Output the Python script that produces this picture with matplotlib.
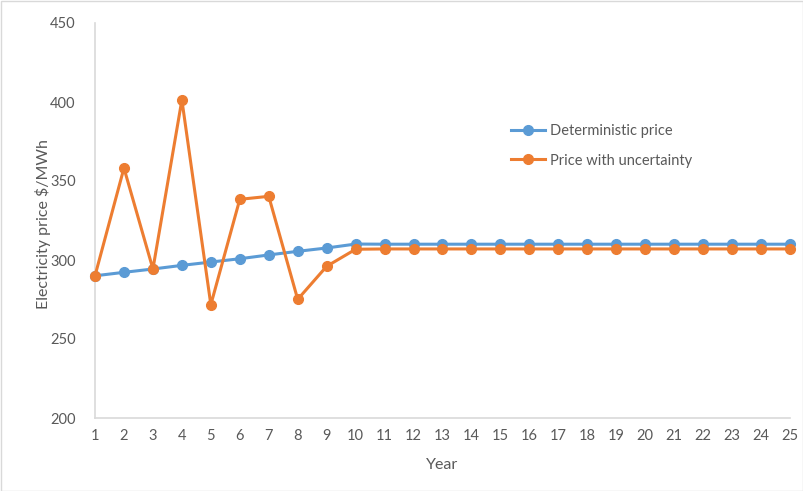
import matplotlib
matplotlib.use("Agg")
import matplotlib.pyplot as plt
from matplotlib.patches import Rectangle

years = list(range(1, 26))
deterministic = [290, 292.2, 294.3, 296.6, 298.7, 300.8, 303.2, 305.5, 307.6, 310.1,
                 310, 310, 310, 310, 310, 310, 310, 310, 310, 310, 310, 310, 310, 310, 310]
uncertain = [290, 358.2, 294.3, 401.3, 271.7, 338.4, 340.3, 275.1, 296, 306.8,
             307, 307, 307, 307, 307, 307, 307, 307, 307, 307, 307, 307, 307, 307, 307]
y_ticks = [200, 250, 300, 350, 400, 450]

plt.rcParams['font.family'] = ['Lato', 'DejaVu Sans']
text_color = '#595959'
axis_color = '#d9d9d9'

W, H = 804, 491
fig = plt.figure(figsize=(W / 100, H / 100), dpi=100)
ax = fig.add_axes([95 / W, 1 - 418 / H, (790 - 95) / W, (418 - 23) / H])

ax.plot(years, deterministic, color='#5b9bd5', lw=2.2, marker='o', ms=7,
        label='Deterministic price', zorder=3, clip_on=False)
ax.plot(years, uncertain, color='#ed7d31', lw=2.2, marker='o', ms=7,
        label='Price with uncertainty', zorder=4, clip_on=False)

ax.set_xlim(1, 25)
ax.set_ylim(200, 450)
ax.set_xticks(years)
ax.set_yticks(y_ticks)
ax.tick_params(length=0, labelsize=10.5, colors=text_color, pad=8)
ax.tick_params(axis='y', pad=14)
for side in ('top', 'right'):
    ax.spines[side].set_visible(False)
for side in ('left', 'bottom'):
    ax.spines[side].set_color(axis_color)
    ax.spines[side].set_linewidth(1.2)

ax.set_xlabel('Year', fontsize=11.5, color=text_color, labelpad=11)
ax.set_ylabel('Electricity price $/MWh', fontsize=11.5, color=text_color,
              va='center')
ax.yaxis.set_label_coords(-0.075, 0.49)

leg = ax.legend(loc='upper left', bbox_to_anchor=(0.580, 0.777), frameon=False,
                fontsize=10.5, handlelength=2.3, labelspacing=1.05, handletextpad=0.35)
for t in leg.get_texts():
    t.set_color(text_color)

fig.patches.append(Rectangle((0.5 / W, 0.5 / H), 1 - 1.5 / W, 1 - 1.5 / H,
                             transform=fig.transFigure, fill=False,
                             edgecolor=axis_color, lw=1))

fig.savefig('out.png', dpi=100)
